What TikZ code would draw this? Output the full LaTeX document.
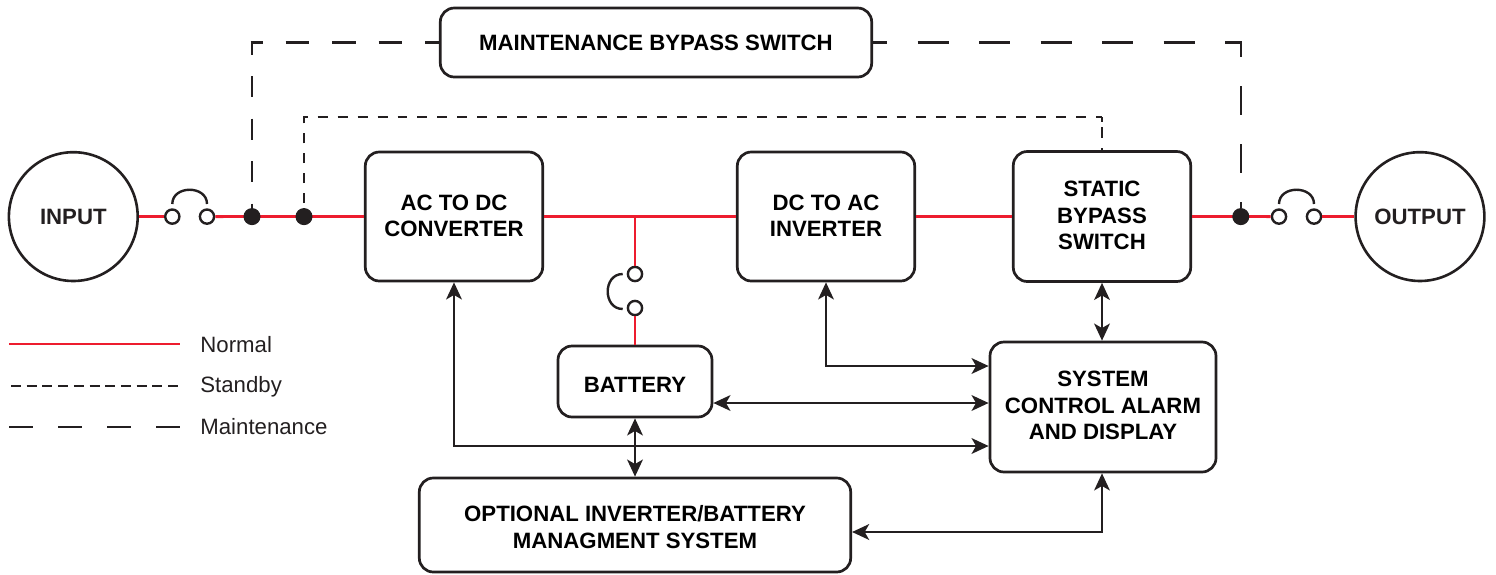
\documentclass[tikz,border=0pt]{standalone}
\usepackage{fontspec}
\setmainfont{Liberation Sans}
\usetikzlibrary{arrows.meta}
\definecolor{ink}{HTML}{231F20}
\definecolor{livered}{HTML}{ED1C2E}
\newcommand{\lowerby}[1]{\rule{0pt}{#1}}
\newcommand{\raiseby}[1]{\rule[-#1]{0pt}{0pt}}
\tikzset{
  box/.style={draw=ink,line width=1.35pt,rounded corners=7pt,inner sep=0pt,align=center,font=\fontsize{11.1}{13.25}\selectfont\bfseries,text=black,fill=white},
  round/.style={draw=ink,line width=1.3pt,circle,inner sep=0pt,minimum size=64.4pt,font=\fontsize{11.1}{13}\selectfont\bfseries,text=ink,fill=white},
  term/.style={draw=ink,line width=1.2pt,circle,inner sep=0pt,minimum size=7.1pt,fill=white},
  dot/.style={draw=ink,line width=0.5pt,circle,inner sep=0pt,minimum size=8pt,fill=ink},
  normal/.style={draw=livered,line width=1.4pt},
  standby/.style={draw=ink,line width=1.35pt},
  maint/.style={draw=ink,line width=1.35pt},
  signal/.style={draw=ink,line width=1.4pt,{Stealth[length=8.5pt,width=7.8pt,inset=2.2pt]}-{Stealth[length=8.5pt,width=7.8pt,inset=2.2pt]}},
  jump/.style={draw=ink,line width=1.2pt},
  legend/.style={anchor=base west,inner sep=0pt,font=\fontsize{11.1}{13}\selectfont,text=ink}
}
\begin{document}
\begin{tikzpicture}[x=0.5pt,y=-0.5pt]
\useasboundingbox (0,0) rectangle (1496,574);
% nodes
\node[box,minimum width=215.7pt,minimum height=34.5pt] (mbs) at (656,42.5) {MAINTENANCE BYPASS SWITCH};
\node[box,minimum width=88.7pt,minimum height=64.5pt] (ac) at (454,216.5) {AC TO DC\\CONVERTER\raiseby{0.8pt}};
\node[box,minimum width=88.7pt,minimum height=64.5pt] (dc) at (826,216.5) {DC TO AC\\INVERTER\raiseby{0.8pt}};
\node[box,minimum width=88.7pt,minimum height=65pt] (sbs) at (1102,216.5) {STATIC\\BYPASS\\SWITCH\raiseby{1pt}};
\node[box,minimum width=77pt,minimum height=35.5pt] (bat) at (635,381.5) {\lowerby{10.5pt}BATTERY};
\node[box,minimum width=113pt,minimum height=65pt] (sys) at (1103,407) {SYSTEM\\CONTROL ALARM\\AND DISPLAY\raiseby{1.6pt}};
\node[box,minimum width=215.7pt,minimum height=47pt] (opt) at (635,525) {\lowerby{10pt}OPTIONAL INVERTER/BATTERY\\MANAGMENT SYSTEM};
\node[round] (in) at (73.3,216.6) {INPUT};
\node[round] (out) at (1420,216.6) {OUTPUT};
\node[term] (s1) at (172.3,216.6) {};
\node[term] (s2) at (207,216.6) {};
\node[term] (s3) at (1279,216.6) {};
\node[term] (s4) at (1314,216.6) {};
\node[term] (b1) at (635,274) {};
\node[term] (b2) at (635,308) {};
\coordinate (jb) at (635,216.5);
\coordinate (mtl) at (252,42.5);
\coordinate (mtr) at (1241,42.5);
\coordinate (stl) at (304,117);
\coordinate (str) at (1102,117);
% normal path
\draw[normal] (in.east) -- (s1.west);
\draw[normal] (s2.east) -- (ac.west);
\draw[normal] (ac.east) -- (dc.west);
\draw[normal] (dc.east) -- (sbs.west);
\draw[normal] (sbs.east) -- (s3.west);
\draw[normal] (s4.east) -- (out.west);
\draw[normal] (jb) -- (b1.north);
\draw[normal] (b2.south) -- (bat.north);
% dots
\node[dot] (d1) at (252,216.6) {};
\node[dot] (d2) at (304,216.6) {};
\node[dot] (d3) at (1240.8,216.6) {};
% maintenance and standby
\draw[maint,dash pattern=on 11.75pt off 11.5pt,dash phase=5.75pt] ([xshift=-0.67pt]mtl) -- (mbs.west);
\draw[maint,dash pattern=on 10.5pt off 10.75pt,dash phase=4.5pt] (mtl) -- (d1.north);
\draw[maint,dash pattern=on 15.5pt off 15.25pt,dash phase=8.5pt] (mbs.east) -- ([xshift=0.67pt]mtr);
\draw[maint,dash pattern=on 14.5pt off 14.5pt,dash phase=7.25pt] (mtr) -- (mtr |- d3.north);
\draw[standby,dash pattern=on 4.99pt off 4.99pt,dash phase=7.5pt,line join=miter] (d2.north) -- (stl) -- (str);
\draw[standby,dash pattern=on 2.5pt off 2.5pt on 5.5pt off 5pt on 2pt off 1pt] (str) -- (str |- sbs.north);
% jumpers
\draw[jump] (172.3,204) .. controls (172.3,185) and (207,185) .. (207,204);
\draw[jump] (1279,204) .. controls (1279,185) and (1314,185) .. (1314,204);
\draw[jump] (622.7,274) .. controls (602.7,274) and (602.7,309) .. (622.7,309);
% signal lines
\draw[signal] (ac.south) |- (sys.west |- 0,446);
\draw[signal] (dc.south) |- (sys.west |- 0,366);
\draw[signal] (bat.east |- 0,403) -- (sys.west |- 0,403);
\draw[signal] (bat.south) -- (opt.north);
\draw[signal] (sbs.south) -- (sbs.south |- sys.north);
\draw[signal] (opt.east |- 0,532) -| (sbs.south |- sys.south);
% legend
\coordinate (la1) at (9,344);\coordinate (la2) at (180,344);
\coordinate (lb1) at (11,386);\coordinate (lb2) at (180,386);
\coordinate (lc1) at (9,427);\coordinate (lc2) at (180,427);
\draw[normal] (la1) -- (la2);
\draw[standby,dash pattern=on 5pt off 2.85pt] (lb1) -- (lb2);
\draw[maint,dash pattern=on 12pt off 12.5pt] (lc1) -- (lc2);
\node[legend] (ln) at (200,352.7) {Normal};
\node[legend] (ls) at (200,392.4) {Standby};
\node[legend] (lm) at (200,434.3) {Maintenance};
\end{tikzpicture}
\end{document}
